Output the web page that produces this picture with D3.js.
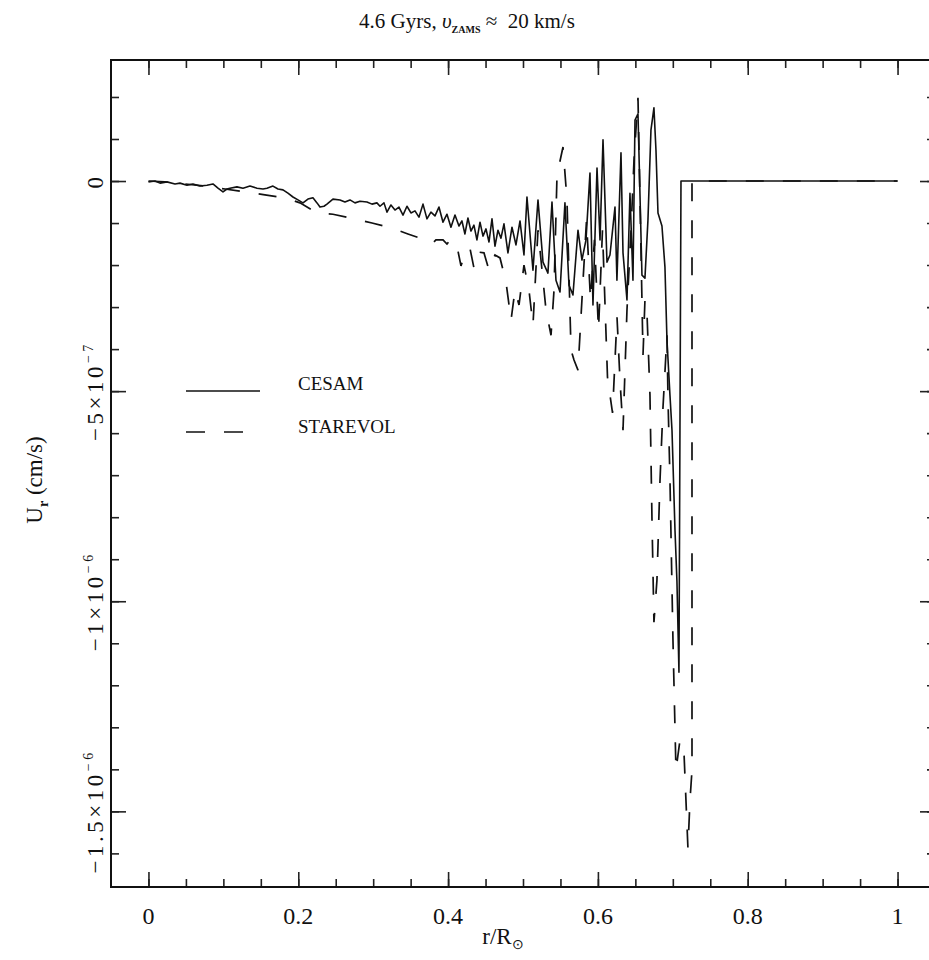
<!DOCTYPE html>
<html>
<head>
<meta charset="utf-8">
<script src="https://cdn.jsdelivr.net/npm/d3@7"></script>
<style>
  body { margin: 0; background: #fff; }
  text { font-family: "Liberation Serif", serif; fill: #111; }
</style>
</head>
<body>
<script>
// U_r values are in units of 1e-7 cm/s
var cesamPts = [
  [0,-0.02],[0.0087,0],[0.0154,-0.05],[0.0247,-0.02],[0.0354,-0.07],[0.0421,-0.05],[0.0514,-0.1],[0.0594,-0.07],
  [0.0688,-0.12],[0.0781,-0.1],[0.0861,-0.07],[0.0928,-0.17],[0.0995,-0.26],[0.1048,-0.19],[0.1088,-0.17],[0.1181,-0.14],
  [0.1262,-0.17],[0.1355,-0.12],[0.1449,-0.17],[0.1529,-0.19],[0.1582,-0.17],[0.1662,-0.12],[0.1729,-0.19],[0.1796,-0.21],
  [0.1862,-0.29],[0.1929,-0.38],[0.1996,-0.45],[0.2063,-0.52],[0.2129,-0.43],[0.2196,-0.40],[0.2250,-0.52],[0.2290,-0.62],
  [0.2343,-0.60],[0.2383,-0.55],[0.2463,-0.43],[0.2557,-0.45],[0.2623,-0.50],[0.2690,-0.45],[0.2757,-0.52],[0.2824,-0.48],
  [0.2917,-0.50],[0.2984,-0.55],[0.3050,-0.52],[0.3091,-0.60],[0.3144,-0.52],[0.3184,-0.74],[0.3237,-0.57],[0.3291,-0.69],
  [0.3344,-0.62],[0.3398,-0.81],[0.3451,-0.60],[0.3504,-0.76],[0.3558,-0.71],[0.3611,-0.86],[0.3665,-0.55],[0.3718,-0.90],
  [0.3771,-0.74],[0.3825,-0.83],[0.3878,-0.62],[0.3932,-0.98],[0.3985,-0.79],[0.4038,-1.10],[0.4092,-0.81],[0.4145,-1.07],
  [0.4185,-0.95],[0.4225,-1.26],[0.4265,-0.88],[0.4305,-1.19],[0.4345,-1.05],[0.4385,-1.40],[0.4426,-0.98],[0.4466,-1.31],
  [0.4506,-1.14],[0.4546,-1.45],[0.4586,-0.90],[0.4626,-1.55],[0.4666,-1.17],[0.4706,-1.36],[0.4746,-1.02],[0.4799,-1.71],
  [0.4853,-1.10],[0.4906,-1.52],[0.4960,-0.95],[0.5013,-1.76],[0.5053,-0.38],[0.5133,-2.12],[0.5200,-0.45],[0.5267,-1.93],
  [0.5333,-2.19],[0.5387,-0.50],[0.5440,-2.36],[0.5494,-2.64],[0.5560,-0.52],[0.5614,-2.48],[0.5667,-2.71],[0.5734,-1.17],
  [0.5787,-1.88],[0.5841,-1.40],[0.5894,0.19],[0.5934,-2.95],[0.5988,0.31],[0.6028,-1.40],[0.6068,0.98],[0.6121,-1.93],
  [0.6161,-1.76],[0.6228,-0.62],[0.6254,-2.36],[0.6308,0.67],[0.6335,-1.71],[0.6388,-2.83],[0.6428,-0.29],[0.6468,-2.36],
  [0.6495,1.45],[0.6535,1.6],[0.6588,-2.24],[0.6628,-2.31],[0.6668,-0.93],[0.6708,1.21],[0.6748,1.74],[0.6775,0.74],
  [0.6802,-0.76],[0.6855,-1.07],[0.6895,-2.05],[0.6922,-3.79],[0.6962,-5.10],[0.6989,-5.93],[0.7029,-8.31],[0.7055,-9.52],
  [0.7082,-11.69],[0.7109,0],[1.0,0]
];

var starevolPts = [
  [0,0],[0.0220,-0.02],[0.0487,-0.07],[0.0754,-0.12],[0.1021,-0.19],[0.1288,-0.26],[0.1555,-0.33],[0.1822,-0.40],
  [0.2023,-0.52],[0.2250,-0.76],[0.2463,-0.79],[0.2757,-0.90],[0.2984,-1.00],[0.3251,-1.12],[0.3464,-1.26],[0.3691,-1.40],
  [0.3785,-1.50],[0.3838,-1.40],[0.3932,-1.40],[0.3985,-1.50],[0.4038,-1.38],[0.4119,-1.55],[0.4172,-2.02],[0.4239,-1.64],
  [0.4292,-1.60],[0.4345,-2.07],[0.4399,-1.69],[0.4479,-1.71],[0.4546,-2.12],[0.4626,-1.76],[0.4693,-1.83],[0.4773,-2.40],
  [0.4840,-3.31],[0.4893,-2.60],[0.4947,-2.95],[0.5013,-2.00],[0.5080,-2.60],[0.5133,-3.43],[0.5200,-1.17],[0.5254,-2.12],
  [0.5307,-3.07],[0.5374,-3.67],[0.5414,-2.60],[0.5454,0.14],[0.5534,0.81],[0.5587,-0.45],[0.5641,-4.02],[0.5681,-4.26],
  [0.5734,-4.50],[0.5794,-2.60],[0.5848,-0.93],[0.5901,-2.83],[0.5954,-1.40],[0.6008,-3.55],[0.6061,-1.17],[0.6128,-4.67],
  [0.6195,-5.52],[0.6255,-3.24],[0.6295,-4.74],[0.6335,-5.93],[0.6388,-3.07],[0.6442,-1.17],[0.6482,0.50],[0.6535,1.98],
  [0.6575,-1.64],[0.6602,-4.14],[0.6628,-2.83],[0.6655,-3.14],[0.6695,-5.10],[0.6722,-8.07],[0.6748,-10.50],[0.6788,-9.50],
  [0.6829,-7.12],[0.6869,-5.38],[0.6922,-3.67],[0.6936,-5.21],[0.6962,-7.12],[0.7002,-10.93],[0.7042,-14.02],[0.7095,-13.31],
  [0.7149,-13.60],[0.7202,-15.88],[0.7229,-14.74],[0.7256,-14.02],[0.7256,0],[1.0,0]
];

var xTickValues = [0, 0.2, 0.4, 0.6, 0.8, 1];
var xTickLabels = ["0", "0.2", "0.4", "0.6", "0.8", "1"];
var yTickValues = [0, -5, -10, -15];
var yTickMantissa = ["0", "\u22125\u00d710", "\u22121\u00d710", "\u22121.5\u00d710"];
var yTickExponent = ["", "\u22127", "\u22126", "\u22126"];
var seriesNames = ["CESAM", "STAREVOL"];

function init() {
    var w = 929, h = 960;
    var padL = 111, padR = 935, padT = 60, padB = 887;

    var svg = d3.select("body").append("svg").attr("width", w).attr("height", h);

    var xScale = d3.scaleLinear().domain([-0.05, 1.05]).range([padL, padR]);
    var yScale = d3.scaleLinear().domain([-16.8, 2.88]).range([padB, padT]);

    var xMinor = d3.range(0, 1.0001, 0.05);
    var yMinor = d3.range(-16, 2.5, 1);

    function addAxis(axis, tx, ty) {
        var g = svg.append("g").attr("transform", "translate(" + tx + "," + ty + ")").call(axis);
        g.select(".domain").remove();
        g.selectAll("line").attr("stroke", "#222").attr("stroke-width", 1.6);
        g.selectAll("text").remove();
        return g;
    }

    // major and minor ticks on all four sides, pointing inward
    addAxis(d3.axisBottom(xScale).tickValues(xTickValues).tickSize(-15), 0, padB);
    addAxis(d3.axisBottom(xScale).tickValues(xMinor).tickSize(-8), 0, padB);
    addAxis(d3.axisTop(xScale).tickValues(xTickValues).tickSize(-15), 0, padT);
    addAxis(d3.axisTop(xScale).tickValues(xMinor).tickSize(-8), 0, padT);
    addAxis(d3.axisLeft(yScale).tickValues(yTickValues).tickSize(-15), padL, 0);
    addAxis(d3.axisLeft(yScale).tickValues(yMinor).tickSize(-8), padL, 0);
    addAxis(d3.axisRight(yScale).tickValues(yTickValues).tickSize(-15), padR, 0);
    addAxis(d3.axisRight(yScale).tickValues(yMinor).tickSize(-8), padR, 0);

    svg.append("rect")
        .attr("x", padL).attr("y", padT)
        .attr("width", padR - padL).attr("height", padB - padT)
        .attr("fill", "none").attr("stroke", "#111").attr("stroke-width", 2);

    // x tick labels
    svg.selectAll(".xlab")
        .data(xTickValues)
        .enter().append("text")
        .attr("class", "xlab")
        .attr("x", function (d) { return xScale(d); })
        .attr("y", padB + 37)
        .attr("text-anchor", "middle")
        .style("font-size", "24px")
        .text(function (d, i) { return xTickLabels[i]; });

    // y tick labels, rotated
    yTickValues.forEach(function (v, i) {
        var t = svg.append("text")
            .attr("transform", "translate(103," + yScale(v) + ") rotate(-90)")
            .attr("text-anchor", "middle")
            .style("font-size", "23px")
            .style("letter-spacing", "3.5px");
        t.append("tspan").text(yTickMantissa[i]);
        if (yTickExponent[i]) {
            t.append("tspan").attr("dy", -10).style("font-size", "14px").text(yTickExponent[i]);
        }
    });

    // axis titles
    var xt = svg.append("text")
        .attr("x", 503).attr("y", 944)
        .attr("text-anchor", "middle")
        .style("font-size", "23px");
    xt.append("tspan").text("r/R");
    xt.append("tspan").attr("dy", 5).style("font-size", "14px").text("\u2299");

    var yt = svg.append("text")
        .attr("transform", "translate(42,480) rotate(-90)")
        .attr("text-anchor", "middle")
        .style("font-size", "23px");
    yt.append("tspan").text("U");
    yt.append("tspan").attr("dy", 6).style("font-size", "14px").style("font-weight", "bold").text("r");
    yt.append("tspan").attr("dy", -6).text(" (cm/s)");

    // title
    var title = svg.append("text")
        .attr("x", 467).attr("y", 28)
        .attr("text-anchor", "middle")
        .attr("xml:space", "preserve")
        .style("font-size", "21px");
    title.append("tspan").text("4.6 Gyrs, ");
    title.append("tspan").style("font-style", "italic").text("\u03c5");
    title.append("tspan").attr("dy", 5).style("font-size", "10px").style("font-weight", "bold").text("ZAMS");
    title.append("tspan").attr("dy", -5).text(" \u2248  20 km/s");

    // curves
    var line = d3.line()
        .x(function (d) { return xScale(d[0]); })
        .y(function (d) { return yScale(d[1]); });

    svg.append("path")
        .datum(starevolPts)
        .attr("d", line)
        .attr("fill", "none")
        .attr("stroke", "#111")
        .attr("stroke-width", 1.7)
        .attr("stroke-dasharray", "18,19");

    svg.append("path")
        .datum(cesamPts)
        .attr("d", line)
        .attr("fill", "none")
        .attr("stroke", "#111")
        .attr("stroke-width", 1.6)
        .attr("stroke-linejoin", "round");

    // legend
    svg.append("line")
        .attr("x1", 186).attr("x2", 260).attr("y1", 391).attr("y2", 391)
        .attr("stroke", "#111").attr("stroke-width", 1.6);
    svg.append("line")
        .attr("x1", 186).attr("x2", 243).attr("y1", 432).attr("y2", 432)
        .attr("stroke", "#111").attr("stroke-width", 1.6)
        .attr("stroke-dasharray", "19,19");

    svg.selectAll(".leg")
        .data(seriesNames)
        .enter().append("text")
        .attr("class", "leg")
        .attr("x", 298)
        .attr("y", function (d, i) { return 390 + i * 43; })
        .style("font-size", "19px")
        .text(function (d) { return d; });
}

init();
</script>
</body>
</html>
